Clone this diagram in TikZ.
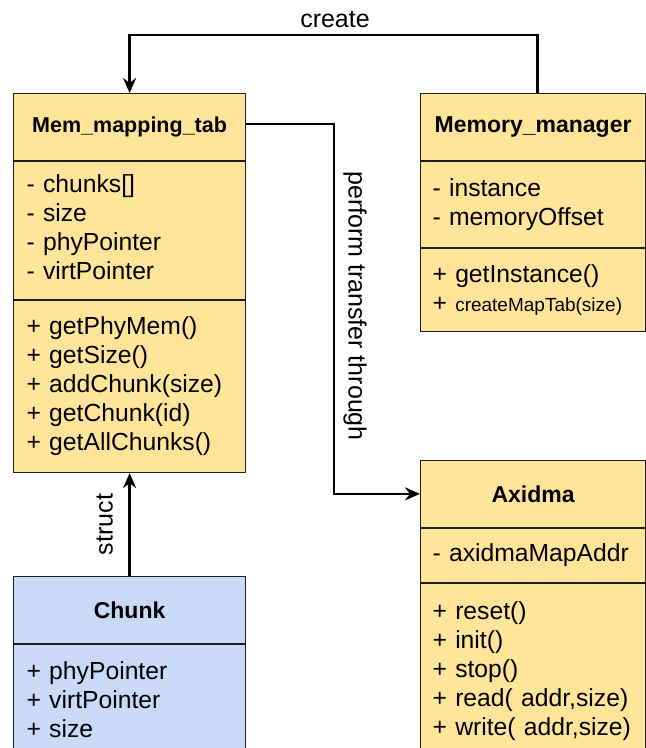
\documentclass[tikz,border=0pt]{standalone}
\usepackage{fontspec}
\setmainfont{Liberation Sans}
\usetikzlibrary{positioning}
\usetikzlibrary{arrows.meta}

\definecolor{classyellow}{HTML}{FFE599}
\definecolor{classblue}{HTML}{C9DAF8}
\definecolor{edgegray}{HTML}{1E1E1E}

\begin{document}
\begin{tikzpicture}[x=1pt,y=-1pt,
  head/.style={draw=edgegray,line width=1.2pt,fill=classyellow,minimum height=66.5pt,
    inner sep=0pt,font=\bfseries\fontsize{23}{27}\selectfont},
  part/.style={draw=edgegray,line width=1.2pt,fill=classyellow,inner xsep=13pt,inner ysep=0pt,
    align=left,font=\fontsize{24.7}{29}\selectfont},
  conn/.style={line width=2.6pt,-{Stealth[length=15pt,width=13pt,inset=5pt]}},
  lbl/.style={font=\fontsize{25}{29}\selectfont,inner sep=0pt}]

\useasboundingbox (0,0) rectangle (646,748);
\clip (0,0) rectangle (646,748);

\node[head,anchor=north west,minimum width=232pt,font=\bfseries\fontsize{21.5}{26}\selectfont] (mem) at (13,93) {Mem\_mapping\_tab};
\node[part,text width=206pt,minimum height=138pt,below=0pt of mem] (mem-attr)
  {- chunks[]\\- size\\- phyPointer\\- virtPointer\vspace{6pt}};
\node[part,text width=206pt,minimum height=172pt,below=0pt of mem-attr] (mem-ops)
  {+ getPhyMem()\\+ getSize()\\+ addChunk(size)\\+ getChunk(id)\\+ getAllChunks()};

\node[head,anchor=north west,minimum width=225pt] (mgr) at (420,93) {Memory\_manager};
\node[part,text width=201pt,inner xsep=12pt,minimum height=86pt,below=0pt of mgr] (mgr-attr)
  {- instance\\- memoryOffset};
\node[part,text width=201pt,inner xsep=12pt,minimum height=83pt,below=0pt of mgr-attr] (mgr-ops)
  {+ getInstance()\\+ {\fontsize{19}{29}\selectfont createMapTab(size)}};

\node[head,anchor=north west,minimum width=225pt] (axi) at (420,460) {Axidma};
\node[part,text width=201pt,inner xsep=12pt,minimum height=54pt,below=0pt of axi] (axi-attr)
  {- axidmaMapAddr};
\node[part,text width=201pt,inner xsep=12pt,minimum height=176pt,below=0pt of axi-attr] (axi-ops)
  {+ reset()\\+ init()\\+ stop()\\+ read( addr,size)\\+ write( addr,size)};

\node[head,fill=classblue,anchor=north west,minimum width=232pt] (chunk) at (13,576) {Chunk};
\node[part,fill=classblue,text width=206pt,minimum height=110pt,below=0pt of chunk] (chunk-attr)
  {+ phyPointer\\+ virtPointer\\+ size};

\coordinate (top) at (335,35);
\draw[conn] ([xshift=4.5pt]mgr.north) |- (top) -| (mem.north);
\node[lbl] (create) at (335,20) {create};

\coordinate (bend) at (334,300);
\draw[conn] ([yshift=3pt]mem.east) -| (bend) |- (axi.west);
\node[lbl,rotate=-90] (through) at (355,306) {perform transfer through};

\draw[conn] (chunk.north) -- (mem-ops.south)
  node[lbl,midway,xshift=-25pt,rotate=90] (struct) {struct};

\end{tikzpicture}
\end{document}
